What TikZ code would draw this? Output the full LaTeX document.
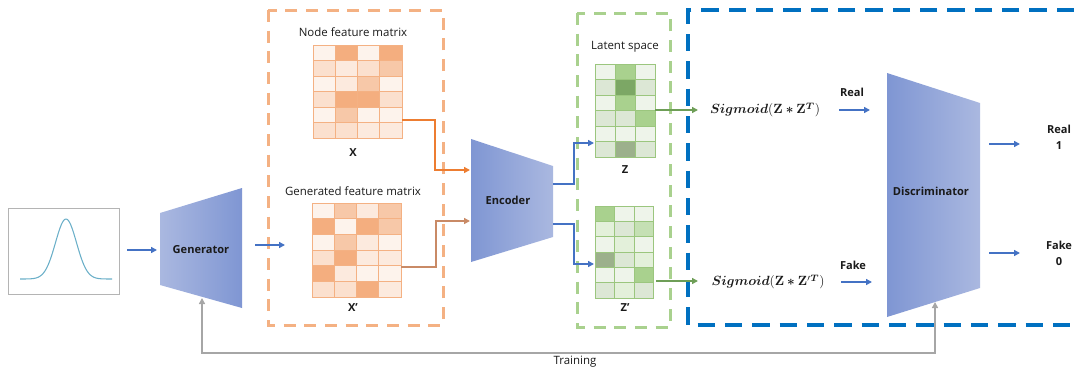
\documentclass[tikz,border=0pt]{standalone}
\usepackage{amsmath,bm}
\usepackage[no-math]{fontspec}
\setmainfont{Open Sans}
\usetikzlibrary{arrows.meta}
\definecolor{bl}{HTML}{4472C4}
\definecolor{orD}{HTML}{ED7D31}
\definecolor{orL}{HTML}{F4B183}
\definecolor{orC}{HTML}{C98A66}
\definecolor{grD}{HTML}{70AD47}
\definecolor{grL}{HTML}{A9D18E}
\definecolor{grA}{HTML}{6E9E57}
\definecolor{dbl}{HTML}{0070C0}
\definecolor{trapD}{HTML}{7F96D3}
\definecolor{trapL}{HTML}{AAB8E0}
\definecolor{gry}{HTML}{A6A6A6}
\definecolor{boxg}{HTML}{B4B4B4}
\definecolor{gauss}{HTML}{6AAFC8}
\definecolor{txtc}{HTML}{1A1A1A}
\colorlet{o1}{orD!9!white}
\colorlet{o2}{orD!16!white}
\colorlet{o3}{orD!24!white}
\colorlet{o4}{orD!42!white}
\colorlet{o5}{orD!62!white}
\definecolor{g1}{HTML}{EEF4EA}
\definecolor{g2}{HTML}{DCE7D5}
\definecolor{g3}{HTML}{A9D18E}
\definecolor{g4}{HTML}{7CA765}
\definecolor{g5}{HTML}{9CB08C}
\definecolor{g6}{HTML}{E3F0DA}
\definecolor{g7}{HTML}{C5E0B4}
\newcommand\cellgrid[6]{%
  \foreach \row [count=\i from 0] in {#6} {
    \foreach \c [count=\j from 0] in \row {
      \filldraw[fill=\c, draw=#5, line width=0.7pt] ({#1+\j*#3},{#2+\i*#4}) rectangle ++(#3,#4);
    }
  }
}
\begin{document}
\begin{tikzpicture}[x=0.75pt,y=-0.75pt,
  txt/.style={font=\fontsize{8.6}{10}\selectfont, inner sep=0, text=txtc},
  lbl/.style={font=\bfseries\fontsize{8.3}{10}\selectfont, inner sep=0, text=txtc},
  mth/.style={font=\fontsize{10.3}{12}\selectfont, inner sep=0, text=txtc},
  tip/.style={-{Triangle[length=4.5pt,width=4.5pt]}},
  barr/.style={draw=bl, line width=1.5pt, tip},
  earr/.style={draw=bl, line width=1.1pt, tip},
  oarr/.style={draw=orD, line width=1.1pt, tip},
  garr/.style={draw=grA, line width=1.6pt, tip},
  trap/.style={left color=trapL, right color=trapD},
  trapr/.style={left color=trapD, right color=trapL},
]
\useasboundingbox (0,0) rectangle (1074,372);

% dashed group boxes
\draw[orL, line width=2.25pt, dash pattern=on 9pt off 6.5pt] (268,10) rectangle (443,325);
\draw[grL, line width=2.25pt, dash pattern=on 9pt off 6.5pt] (577,13) rectangle (670,327);
\draw[dbl, line width=3pt, dash pattern=on 13pt off 7.5pt] (1074,10) -- (688,10) -- (688,325) -- (1074,325);

% distribution box
\node[draw=boxg, line width=0.6pt, minimum width=83.25pt, minimum height=64.5pt, inner sep=0] (dist) at (63.5,251) {};
\draw[gauss, line width=0.8pt] plot[domain=20:112, samples=90, smooth] (\x, {279-60*exp(-((\x-66)/10.5)^2/2)});

% Generator
\shade[trap] (160,213) -- (242,188) -- (242,308) -- (160,285) -- cycle;
\node[lbl] (gen) at (201,250) {Generator};
\coordinate (genin) at (157,250);
\coordinate (genout) at (255,245);
\coordinate (genbot) at (202,298);

% Encoder
\shade[trapr] (471,139) -- (553,166) -- (553,237) -- (471,262) -- cycle;
\node[lbl] (enc) at (508,200) {Encoder};
\coordinate (encin1) at (470,170);
\coordinate (encin2) at (470,221);
\coordinate (encout1) at (553,184);
\coordinate (encout2) at (553,224);

% Discriminator
\shade[trapr] (887,73) -- (980,103) -- (980,288) -- (887,317) -- cycle;
\node[lbl] (disc) at (931,191) {Discriminator};
\coordinate (discbot) at (935,302);

% matrices
\cellgrid{313}{45}{22.25}{15.5}{orD!60!white}{{o1,o5,o1,o5},{o3,o2,o3,o4},{o1,o2,o4,o1},{o3,o5,o5,o3},{o1,o4,o1,o1},{o3,o3,o2,o2}}
\cellgrid{312}{203}{22.25}{15.67}{orD!60!white}{{o1,o4,o2,o4},{o5,o1,o5,o4},{o1,o4,o2,o1},{o3,o5,o2,o2},{o5,o2,o1,o1},{o3,o3,o5,o2}}
\cellgrid{595}{64}{20}{15.5}{grD!70!white}{{g1,g3,g1},{g2,g4,g2},{g1,g3,g1},{g2,g2,g3},{g1,g1,g1},{g2,g5,g2}}
\cellgrid{595}{206}{19.5}{15.33}{grD!70!white}{{g3,g1,g1},{g6,g2,g7},{g1,g6,g1},{g5,g2,g6},{g1,g1,g3},{g2,g6,g2}}

\node[txt] (nfm) at (353,32) {Node feature matrix};
\node[lbl] (Xl) at (353,153) {X};
\node[txt] (gfm) at (353,191) {Generated feature matrix};
\node[lbl] (Xpl) at (353,308) {X’};
\node[txt] (lat) at (625,47) {Latent space};
\node[lbl] (Zl) at (625,170) {Z};
\node[lbl] (Zpl) at (625,308) {Z’};

\coordinate (Xout) at (402,120);
\coordinate (Xpout) at (401,267);
\coordinate (Zin) at (594,143);
\coordinate (Zpin) at (594,264);
\coordinate (Zout) at (655,110);
\coordinate (Zpout) at (656,281);

% sigmoid expressions
\node[mth] (sig1) at (765,110) {$\bm{Sigmoid}(\mathbf{Z}\bm{\ast}\mathbf{Z}^{\bm{T}})$};
\node[mth] (sig2) at (768,282) {$\bm{Sigmoid}(\mathbf{Z}\bm{\ast}\mathbf{Z}'^{\bm{T}})$};
\coordinate (sig1in) at (698,110);
\coordinate (sig2in) at (698,281);

\node[lbl] (real) at (852,92) {Real};
\node[lbl] (fake) at (853,265) {Fake};
\coordinate (r1) at (839,110); \coordinate (r2) at (870,110);
\coordinate (f1) at (841,282); \coordinate (f2) at (872,282);

\node[lbl] (oreal) at (1059,129) {Real};
\node[lbl] (one) at (1059,146) {1};
\node[lbl] (ofake) at (1059,245) {Fake};
\node[lbl] (zero) at (1059,262) {0};
\coordinate (o1a) at (989,144); \coordinate (o1b) at (1020,144);
\coordinate (o2a) at (989,253); \coordinate (o2b) at (1020,253);

\node[txt] (train) at (575,362) {Training};

% connectors
\draw[barr] ([xshift=6pt]dist.east |- genin) -- (genin);
\draw[barr] (genout) -- (285,245);
\draw[oarr] (Xout) -- (435,120) -- (435,170) -- (encin1);
\draw[oarr, draw=orC] (Xpout) -- (436,267) -- (436,221) -- (encin2);
\draw[earr] (encout1) -- (574,184) -- (574,143) -- (Zin);
\draw[earr] (encout2) -- (574,224) -- (574,264) -- (Zpin);
\draw[garr] (Zout) -- (sig1in);
\draw[garr] (Zpout) -- (sig2in);
\draw[barr] (r1) -- (r2);
\draw[barr] (f1) -- (f2);
\draw[barr] (o1a) -- (o1b);
\draw[barr] (o2a) -- (o2b);
\draw[draw=gry, line width=1.4pt, {Triangle[length=4.5pt,width=4.5pt]}-{Triangle[length=4.5pt,width=4.5pt]}] (genbot) -- (202,353) -- (935,353) -- (discbot);
\end{tikzpicture}
\end{document}
